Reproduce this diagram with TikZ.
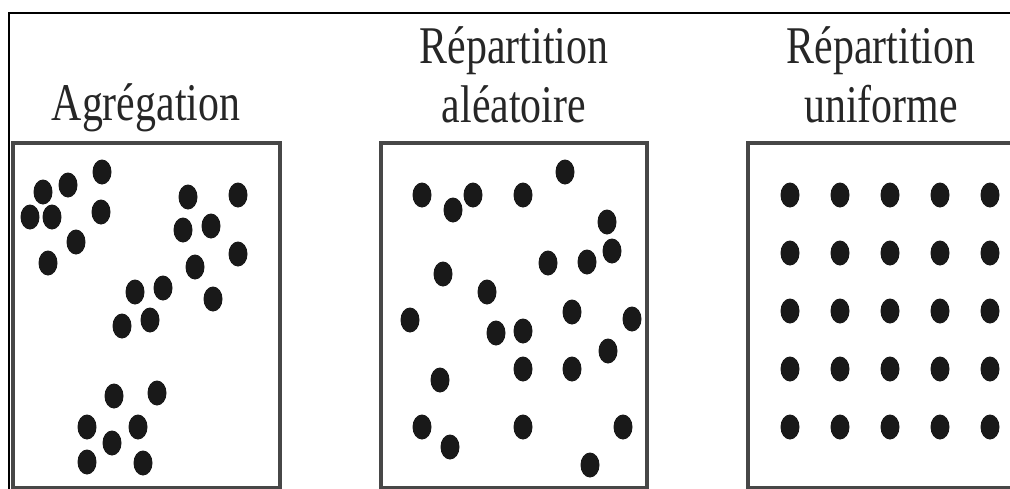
\documentclass[tikz,border=0pt]{standalone}
\usepackage{fontspec}
\newfontfamily\titlefont[FakeStretch=0.79]{Liberation Serif}

\begin{document}
\begin{tikzpicture}[x=1pt,y=-1pt]
\tikzset{
  panel/.style={draw=black!72, line width=3.4pt},
  title/.style={font=\titlefont\fontsize{53}{59}\selectfont, text=black!85, align=center, inner sep=0pt},
  dot/.style={fill=black!90}
}
\useasboundingbox (0,0) rectangle (1010,488);
\draw[line width=1.4pt] (9,490) -- (9,13) -- (1012,13);
% the three panels
\draw[panel] (13,143) rectangle (280,488);
\draw[panel] (381,143) rectangle (647,488);
\draw[panel] (748,143) rectangle (1020,488);
\node[title, anchor=base] (agr) at (146,120) {Agrégation};
\node[title, anchor=base] (alea) at (514,122) {Répartition\\aléatoire};
\node[title, anchor=base] (unif) at (881,122) {Répartition\\uniforme};
% agregation
\foreach \x/\y in {43/192, 68/185, 102/172, 30/217, 52/217, 101/212, 76/242, 48/263,
  188/197, 238/195, 183/230, 211/226, 238/254, 195/267, 213/299,
  135/292, 163/288, 122/326, 150/320,
  114/396, 157/393, 87/427, 138/427, 112/443, 87/462, 143/463}
  \fill[dot] (\x,\y) ellipse [x radius=9.5pt, y radius=12.5pt];
% aleatoire
\foreach \x/\y in {422/195, 453/210, 473/195, 523/195, 565/172, 607/222, 612/251,
  443/274, 487/292, 548/263, 587/262, 410/320, 496/333, 523/331, 572/312,
  632/319, 608/351, 440/380, 523/369, 572/369, 422/427, 450/447, 523/427,
  623/427, 590/465}
  \fill[dot] (\x,\y) ellipse [x radius=9.5pt, y radius=12.5pt];
% uniforme
\foreach \i in {0,...,4}
  \foreach \j in {0,...,4}
    \fill[dot] (790+50*\i,195+58*\j) ellipse [x radius=9.5pt, y radius=12.5pt];
\end{tikzpicture}
\end{document}
